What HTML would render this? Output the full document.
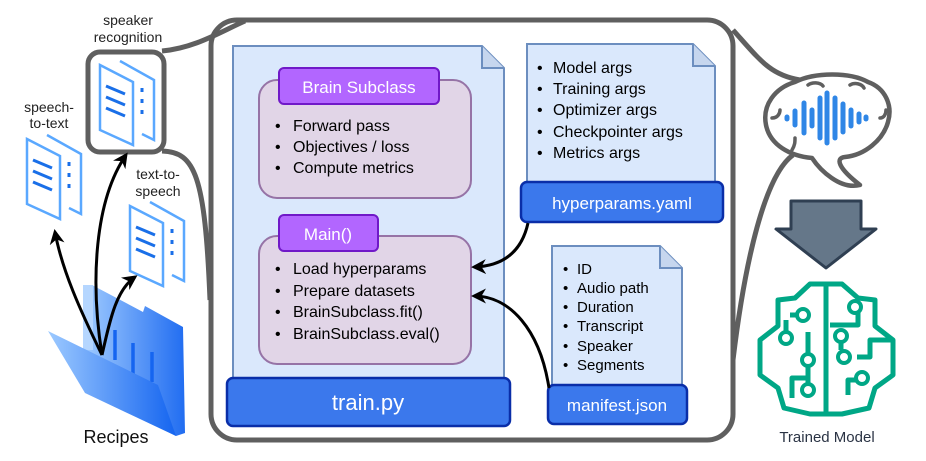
<!DOCTYPE html>
<html><head><meta charset="utf-8"><style>
html,body{margin:0;padding:0;background:#fff;width:926px;height:461px;overflow:hidden}
text{font-family:"Liberation Sans",Arial,sans-serif}
</style></head><body>
<svg width="926" height="461" viewBox="0 0 926 461" xmlns="http://www.w3.org/2000/svg">
<defs>
<linearGradient id="fg" x1="0" x2="1"><stop offset="0" stop-color="#9cc9ff"/><stop offset="1" stop-color="#1565f0"/></linearGradient>
<marker id="ah" viewBox="0 0 10 10" refX="8" refY="5" markerWidth="5" markerHeight="5" orient="auto"><path d="M0,0 L10,5 L0,10 L3,5 Z" fill="#000"/></marker>
</defs>
<rect x="211" y="20" width="522" height="420" rx="26" fill="#fff" stroke="#5f5f5f" stroke-width="5"/>
<path d="M162,51 C195,48 220,32 245,21" fill="none" stroke="#5f5f5f" stroke-width="5"/>
<path d="M162,151 C195,152 205,175 210,300" fill="none" stroke="#5f5f5f" stroke-width="5"/>
<path d="M733,30 C760,60 770,75 800,80" fill="none" stroke="#5f5f5f" stroke-width="5"/>
<path d="M733,360 C745,260 765,175 793,155" fill="none" stroke="#5f5f5f" stroke-width="5"/>
<rect x="88" y="52" width="76" height="100" rx="12" fill="#fff" stroke="#5f5f5f" stroke-width="5"/>
<g fill="none" stroke="#5aa8ff" stroke-width="2.5">
<path d="M120,61 L154,80 L154,140 L142,134"/>
<path d="M100,65 L133,82 L133,145 L100,130 Z" fill="#fff"/>
<g stroke="#1a6fe8" stroke-width="3"><path d="M106,86 L125,94"/><path d="M106,97 L125,105"/><path d="M106,108 L125,116"/></g>
<g stroke="#1a6fe8" stroke-width="3"><path d="M142,88 L142,92"/><path d="M142,99 L142,103"/><path d="M142,110 L142,114"/></g>
</g>
<g transform="translate(-73,74)" fill="none" stroke="#5aa8ff" stroke-width="2.5">
<path d="M120,61 L154,80 L154,140 L142,134"/>
<path d="M100,65 L133,82 L133,145 L100,130 Z" fill="#fff"/>
<g stroke="#1a6fe8" stroke-width="3"><path d="M106,86 L125,94"/><path d="M106,97 L125,105"/><path d="M106,108 L125,116"/></g>
<g stroke="#1a6fe8" stroke-width="3"><path d="M142,88 L142,92"/><path d="M142,99 L142,103"/><path d="M142,110 L142,114"/></g>
</g>
<g transform="translate(30,141)" fill="none" stroke="#5aa8ff" stroke-width="2.5">
<path d="M120,61 L154,80 L154,140 L142,134"/>
<path d="M100,65 L133,82 L133,145 L100,130 Z" fill="#fff"/>
<g stroke="#1a6fe8" stroke-width="3"><path d="M106,86 L125,94"/><path d="M106,97 L125,105"/><path d="M106,108 L125,116"/></g>
<g stroke="#1a6fe8" stroke-width="3"><path d="M142,88 L142,92"/><path d="M142,99 L142,103"/><path d="M142,110 L142,114"/></g>
</g>
<text x="128" y="25" font-size="14" text-anchor="middle" fill="#222">speaker</text>
<text x="128" y="42" font-size="14" text-anchor="middle" fill="#222">recognition</text>
<text x="49" y="112" font-size="14" text-anchor="middle" fill="#222">speech-</text>
<text x="49" y="128" font-size="14" text-anchor="middle" fill="#222">to-text</text>
<text x="158" y="179" font-size="14" text-anchor="middle" fill="#222">text-to-</text>
<text x="158" y="196" font-size="14" text-anchor="middle" fill="#222">speech</text>
<!-- folder -->
<path d="M83,285 L92,285 L143,312 L145,306 L183,327 L185,433 L176,436 L83,383 Z" fill="url(#fg)" opacity="0.95"/>
<rect x="83" y="285" width="10" height="65" fill="#b5d6ff"/>
<g stroke="#1565f0" stroke-width="3.5"><path d="M115,330 L115,360"/><path d="M133,343 L133,374"/><path d="M152,352 L152,382"/></g>
<path d="M48,331 L158,385 L176,436 L85,393 Z" fill="url(#fg)"/>
<g fill="none" stroke="#000" stroke-width="3" marker-end="url(#ah)">
<path d="M102,355 C80,310 62,270 55,232"/>
<path d="M102,355 C90,280 95,200 126,155"/>
<path d="M102,355 C110,320 116,290 135,277"/>
</g>
<text x="116" y="443" font-size="18" text-anchor="middle" fill="#111">Recipes</text>
<!-- train.py doc -->
<path d="M233,46 L482,46 L504,68 L504,382 L233,382 Z" fill="#dae8fc" stroke="#6c8ebf" stroke-width="2"/>
<path d="M482,46 L482,68 L504,68" fill="#c6d6ee" stroke="#6c8ebf" stroke-width="2"/>
<rect x="227" y="378" width="283" height="48" rx="6" fill="#3b78ec" stroke="#0a2ea8" stroke-width="2.5"/>
<text x="368" y="410" font-size="22" text-anchor="middle" fill="#fff">train.py</text>
<rect x="259" y="80" width="212" height="118" rx="18" fill="#e1d5e7" stroke="#9673a6" stroke-width="2"/>
<rect x="279" y="68" width="160" height="36" rx="5" fill="#b266ff" stroke="#7019c8" stroke-width="2"/>
<text x="359" y="93" font-size="17" text-anchor="middle" fill="#fff">Brain Subclass</text>
<g font-size="16" fill="#000">
<text x="275" y="131">•</text><text x="293" y="131">Forward pass</text>
<text x="275" y="152">•</text><text x="293" y="152">Objectives / loss</text>
<text x="275" y="173">•</text><text x="293" y="173">Compute metrics</text>
</g>
<rect x="259" y="236" width="212" height="128" rx="18" fill="#e1d5e7" stroke="#9673a6" stroke-width="2"/>
<rect x="279" y="215" width="99" height="36" rx="5" fill="#b266ff" stroke="#7019c8" stroke-width="2"/>
<text x="328" y="240" font-size="17" text-anchor="middle" fill="#fff">Main()</text>
<g font-size="16" fill="#000">
<text x="275" y="274">•</text><text x="293" y="274">Load hyperparams</text>
<text x="275" y="296">•</text><text x="293" y="296">Prepare datasets</text>
<text x="275" y="317">•</text><text x="293" y="317">BrainSubclass.fit()</text>
<text x="275" y="339">•</text><text x="293" y="339">BrainSubclass.eval()</text>
</g>
<path d="M527,44 L693,44 L715,66 L715,184 L527,184 Z" fill="#dae8fc" stroke="#6c8ebf" stroke-width="2"/>
<path d="M693,44 L693,66 L715,66" fill="#c6d6ee" stroke="#6c8ebf" stroke-width="2"/>
<rect x="521" y="182" width="202" height="40" rx="6" fill="#3b78ec" stroke="#0a2ea8" stroke-width="2.5"/>
<text x="622" y="209" font-size="17" text-anchor="middle" fill="#fff">hyperparams.yaml</text>
<g font-size="16" fill="#000">
<text x="537" y="73">•</text><text x="553" y="73">Model args</text>
<text x="537" y="94">•</text><text x="553" y="94">Training args</text>
<text x="537" y="115">•</text><text x="553" y="115">Optimizer args</text>
<text x="537" y="137">•</text><text x="553" y="137">Checkpointer args</text>
<text x="537" y="158">•</text><text x="553" y="158">Metrics args</text>
</g>
<path d="M552,246 L660,246 L682,268 L682,386 L552,386 Z" fill="#dae8fc" stroke="#6c8ebf" stroke-width="2"/>
<path d="M660,246 L660,268 L682,268" fill="#c6d6ee" stroke="#6c8ebf" stroke-width="2"/>
<rect x="548" y="385" width="139" height="39" rx="6" fill="#3b78ec" stroke="#0a2ea8" stroke-width="2.5"/>
<text x="617" y="411" font-size="17" text-anchor="middle" fill="#fff">manifest.json</text>
<g font-size="15" fill="#000">
<text x="563" y="274">•</text><text x="577" y="274">ID</text>
<text x="563" y="293">•</text><text x="577" y="293">Audio path</text>
<text x="563" y="312">•</text><text x="577" y="312">Duration</text>
<text x="563" y="331">•</text><text x="577" y="331">Transcript</text>
<text x="563" y="351">•</text><text x="577" y="351">Speaker</text>
<text x="563" y="370">•</text><text x="577" y="370">Segments</text>
</g>
<g fill="none" stroke="#000" stroke-width="3" marker-end="url(#ah)">
<path d="M528,223 C522,250 505,266 474,267"/>
<path d="M549,388 C540,330 510,296 474,296"/>
</g>
<!-- brain bubble -->
<path d="M795,82 C815,72 850,72 868,82 C885,88 893,105 888,122 C883,140 865,155 845,157 C835,158 838,168 860,185 C840,190 820,170 812,158 C790,156 770,145 766,125 C762,105 775,88 795,82 Z" fill="none" stroke="#5f5f5f" stroke-width="4.5" stroke-linejoin="round"/>
<g fill="none" stroke="#5f5f5f" stroke-width="3.5" stroke-linecap="round">
<path d="M808,85 C812,82 820,82 823,86"/><path d="M850,85 C855,82 862,84 864,88"/><path d="M772,118 C778,118 780,113 780,110"/><path d="M880,118 C884,118 886,114 886,110"/><path d="M792,150 C795,145 795,142 795,138"/>
</g>
<g stroke="#2f86e6" stroke-width="5" stroke-linecap="round">
<path d="M787,117 L787,119"/><path d="M795,111 L795,125"/><path d="M804,103 L804,133"/><path d="M812,110 L812,126"/><path d="M820,98 L820,138"/><path d="M827,93 L827,143"/><path d="M835,98 L835,138"/><path d="M843,104 L843,132"/><path d="M851,110 L851,126"/><path d="M859,114 L859,122"/><path d="M866,117 L866,119"/>
</g>
<path d="M791,201 L861,201 L861,229 L876,229 L826,268 L776,229 L791,229 Z" fill="#657789" stroke="#2f3f52" stroke-width="3" stroke-linejoin="round"/>
<g fill="none" stroke="#00a786" stroke-width="5" stroke-linejoin="round">
<path d="M826,284 L810,284 L795,298 L778,300 L778,326 L760,340 L760,375 L778,388 L784,408 L810,414 L826,414 Z"/>
<path d="M826,284 L842,284 L858,298 L875,300 L875,326 L893,340 L893,375 L875,388 L869,408 L842,414 L826,414 Z"/>
<path d="M826,284 L826,414"/>
<path d="M786,320 L786,340 M790,315 L800,315 M808,332 L808,385 L802,390 M810,360 L802,360"/>
<path d="M830,325 L858,325 L858,310 M841,330 L841,350 M857,357 L870,357 L870,340 L893,340 M792,398 L792,378 L808,378 M848,395 L848,380 L862,380"/>
</g>
<g fill="#fff" stroke="#00a786" stroke-width="4">
<circle cx="803" cy="315" r="6"/><circle cx="786" cy="338" r="6"/><circle cx="808" cy="360" r="6"/><circle cx="808" cy="390" r="6"/>
<circle cx="855" cy="307" r="6"/><circle cx="841" cy="336" r="6"/><circle cx="844" cy="357" r="6"/><circle cx="862" cy="378" r="6"/>
</g>
<text x="827" y="442" font-size="15" text-anchor="middle" fill="#2a3344">Trained Model</text>
</svg>
</body></html>
